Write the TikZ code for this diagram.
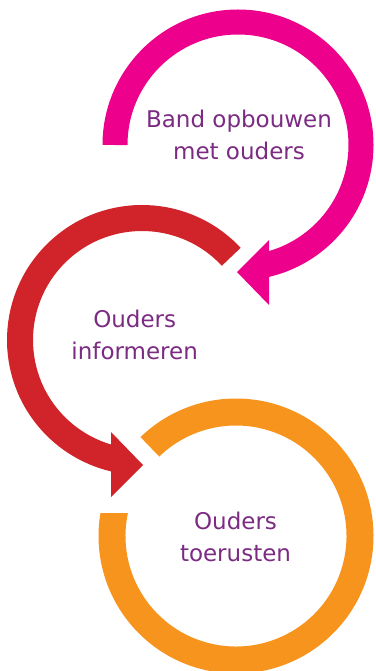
\documentclass[tikz,border=0pt]{standalone}
\usepackage{fontspec}
\setmainfont{DejaVu Sans}
\usetikzlibrary{calc}
\definecolor{magentaC}{RGB}{236,0,140}
\definecolor{redC}{RGB}{209,35,42}
\definecolor{orangeC}{RGB}{247,148,29}
\definecolor{textC}{RGB}{123,43,130}
\begin{document}
\begin{tikzpicture}[x=1pt,y=1pt,
  steptext/.style={text=textC, align=center, inner sep=0pt, font=\fontsize{23}{32}\selectfont},
  ringline/.style={line width=#1, line cap=butt}]
\useasboundingbox (0,0) rectangle (375,-671);
\clip (0,0) rectangle (375,-671);
% centres
\coordinate (M) at (238,-145);
\coordinate (R) at (142,-340);
\coordinate (O) at (236,-536);
% magenta arc + head
\draw[magentaC, ringline=25] ($(M)+(180:123)$) arc[start angle=180, end angle=-79, radius=123];
\coordinate (mtip) at (237,-272);
\coordinate (mb1) at (269,-240);
\coordinate (mb2) at (269,-305);
\fill[magentaC] (mtip) -- (mb1) -- (mb2) -- cycle;
% red arc + head
\draw[redC, ringline=26] ($(R)+(43:122)$) arc[start angle=43, end angle=258.5, radius=122];
\coordinate (rtip) at (143,-465);
\coordinate (rb1) at (111,-432);
\coordinate (rb2) at (111,-497);
\fill[redC] (rtip) -- (rb1) -- (rb2) -- cycle;
% orange ring (horizontal cut at the left end)
\fill[orangeC] ($(O)+(134:137.5)$) arc[start angle=134, end angle=-189.63, radius=137.5]
  -- ($(O)+(-192.01:110.5)$) arc[start angle=-192.01, end angle=134, radius=110.5] -- cycle;
% labels
\node[steptext] (band) at (239,-135.4) {Band opbouwen\\met ouders};
\node[steptext] (inform) at (134.7,-335.2) {Ouders\\informeren};
\node[steptext] (toerust) at (235.5,-537.4) {Ouders\\toerusten};
\end{tikzpicture}
\end{document}
